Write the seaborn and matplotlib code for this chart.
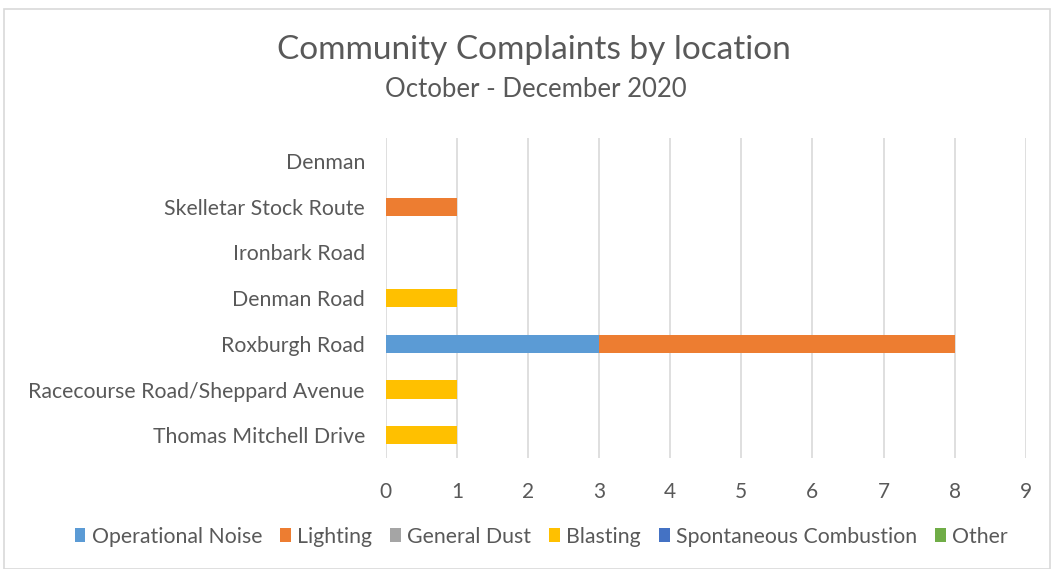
import matplotlib
matplotlib.use("Agg")
import matplotlib.pyplot as plt
import seaborn as sns
import pandas as pd
import numpy as np
from matplotlib.patches import Rectangle, Patch

locations = ["Denman", "Skelletar Stock Route", "Ironbark Road", "Denman Road",
             "Roxburgh Road", "Racecourse Road/Sheppard Avenue", "Thomas Mitchell Drive"]
series_names = ["Operational Noise", "Lighting", "General Dust", "Blasting",
                "Spontaneous Combustion", "Other"]
operational_noise = [0, 0, 0, 0, 3, 0, 0]
lighting = [0, 1, 0, 0, 5, 0, 0]
general_dust = [0, 0, 0, 0, 0, 0, 0]
blasting = [0, 0, 0, 1, 0, 1, 1]
spontaneous_combustion = [0, 0, 0, 0, 0, 0, 0]
other = [0, 0, 0, 0, 0, 0, 0]
colors = ["#5B9BD5", "#ED7D31", "#A5A5A5", "#FFC000", "#4472C4", "#70AD47"]
x_ticks = [0, 1, 2, 3, 4, 5, 6, 7, 8, 9]

sns.set_theme(style="white")
plt.rcParams["font.family"] = ["Lato", "DejaVu Sans"]
txt = "#595959"

fig = plt.figure(figsize=(10.51, 5.69), dpi=100)
ax = fig.add_axes([0.367, 0.195, 0.609, 0.562])

vals = np.array([operational_noise, lighting, general_dust, blasting,
                 spontaneous_combustion, other], dtype=float)
cum = np.cumsum(vals, axis=0)
for i in range(len(series_names) - 1, -1, -1):
    df = pd.DataFrame({"loc": locations, "v": cum[i]})
    sns.barplot(data=df, x="v", y="loc", order=locations, color=colors[i],
                saturation=1, width=0.4, orient="h", ax=ax, errorbar=None,
                linewidth=0)

ax.set_xlim(0, 9)
ax.set_ylim(6.5, -0.5)
ax.set_xticks(x_ticks)
ax.set_xticklabels([str(t) for t in x_ticks])
ax.grid(axis="x", color="#D9D9D9", linewidth=1.2)
ax.set_axisbelow(True)
for s in ax.spines.values():
    s.set_visible(False)
ax.set_xlabel("")
ax.set_ylabel("")
ax.tick_params(axis="x", length=0, pad=17, labelsize=15, labelcolor=txt)
ax.tick_params(axis="y", length=0, pad=15, labelsize=15.3, labelcolor=txt)

fig.text(0.508, 0.912, "Community Complaints by location", ha="center", va="center",
         fontsize=24, color=txt)
fig.text(0.51, 0.842, "October - December 2020", ha="center", va="center",
         fontsize=18.5, color=txt)

handles = [Patch(facecolor=c, edgecolor="none", label=n) for c, n in zip(colors, series_names)]
fig.legend(handles=handles, loc="center", bbox_to_anchor=(0.515, 0.057), ncol=6,
           frameon=False, fontsize=15.3, labelcolor=txt, handlelength=0.5,
           handleheight=0.6, handletextpad=0.3, columnspacing=0.85)

fig.patches.append(Rectangle((0.004, 0.0), 0.995, 0.985, transform=fig.transFigure,
                             fill=False, edgecolor="#D9D9D9", linewidth=1.2))

fig.savefig("out.png", dpi=100)
